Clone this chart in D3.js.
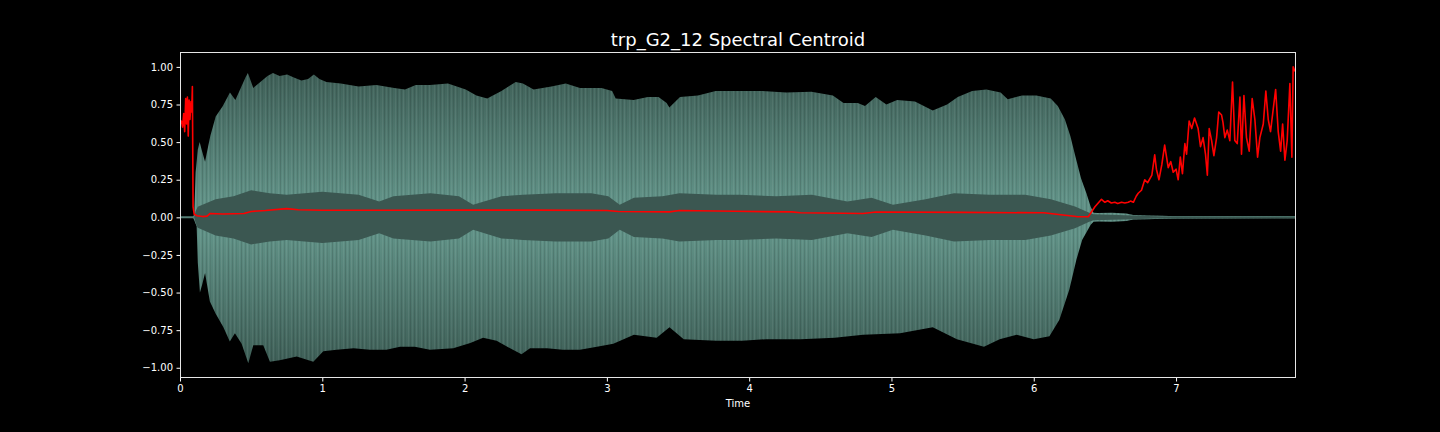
<!DOCTYPE html>
<html>
<head>
<meta charset="utf-8">
<script src="https://cdn.jsdelivr.net/npm/d3@7"></script>
<style>
  html, body { margin: 0; padding: 0; background: #000; }
  svg { display: block; }
  text { font-family: "DejaVu Sans", sans-serif; fill: #fff; }
</style>
</head>
<body>
<div id="chart"></div>
<script>
// outer waveform envelope, upper edge (time in s, amplitude)
const envUpperTime = [0, 0.09, 0.10, 0.11, 0.125, 0.138, 0.155, 0.176, 0.195, 0.213, 0.251, 0.301, 0.351, 0.389, 0.427, 0.46, 0.477, 0.50, 0.515, 0.552, 0.615, 0.653, 0.70, 0.753, 0.80, 0.853, 0.90, 0.941, 0.98, 1.029, 1.13, 1.255, 1.38, 1.506, 1.581, 1.657, 1.757, 1.883, 2.008, 2.083, 2.159, 2.259, 2.359, 2.41, 2.485, 2.61, 2.711, 2.811, 2.962, 3.037, 3.062, 3.188, 3.288, 3.363, 3.42, 3.439, 3.514, 3.64, 3.765, 3.916, 4.086, 4.261, 4.437, 4.588, 4.663, 4.763, 4.814, 4.889, 4.964, 5.04, 5.165, 5.29, 5.391, 5.466, 5.567, 5.667, 5.767, 5.817, 5.918, 6.018, 6.119, 6.169, 6.219, 6.257, 6.294, 6.332, 6.37, 6.40, 6.42, 6.45, 6.55, 6.65, 6.70, 6.80, 6.90, 7.0, 7.843];
const envUpper = [0, 0, 0.02, 0.3, 0.45, 0.50, 0.44, 0.37, 0.46, 0.54, 0.67, 0.74, 0.83, 0.78, 0.86, 0.93, 0.96, 0.90, 0.86, 0.89, 0.94, 0.96, 0.94, 0.95, 0.93, 0.91, 0.92, 0.95, 0.92, 0.90, 0.89, 0.87, 0.88, 0.86, 0.85, 0.88, 0.88, 0.89, 0.85, 0.81, 0.79, 0.84, 0.90, 0.89, 0.85, 0.87, 0.89, 0.86, 0.86, 0.84, 0.79, 0.78, 0.80, 0.80, 0.76, 0.73, 0.80, 0.81, 0.84, 0.84, 0.84, 0.83, 0.835, 0.81, 0.76, 0.76, 0.74, 0.80, 0.75, 0.78, 0.77, 0.71, 0.75, 0.80, 0.84, 0.85, 0.83, 0.785, 0.81, 0.81, 0.79, 0.74, 0.65, 0.54, 0.40, 0.26, 0.16, 0.07, 0.03, 0.028, 0.03, 0.025, 0.015, 0.012, 0.01, 0.008, 0.006];

// outer waveform envelope, lower edge
const envLowerTime = [0, 0.09, 0.10, 0.117, 0.125, 0.14, 0.155, 0.176, 0.21, 0.25, 0.305, 0.35, 0.386, 0.433, 0.48, 0.515, 0.585, 0.632, 0.70, 0.82, 0.937, 1.007, 1.10, 1.22, 1.335, 1.45, 1.546, 1.65, 1.757, 1.92, 2.04, 2.13, 2.225, 2.32, 2.40, 2.46, 2.58, 2.69, 2.81, 2.93, 3.045, 3.19, 3.35, 3.44, 3.54, 3.77, 3.95, 4.12, 4.36, 4.6, 4.8, 5.06, 5.29, 5.46, 5.65, 5.76, 5.88, 6.0, 6.11, 6.18, 6.25, 6.3, 6.34, 6.40, 6.42, 6.45, 6.55, 6.65, 6.70, 6.80, 6.90, 7.0, 7.843];
const envLower = [0, 0, -0.02, -0.06, -0.3, -0.50, -0.45, -0.37, -0.56, -0.64, -0.73, -0.825, -0.77, -0.84, -0.97, -0.85, -0.85, -0.96, -0.95, -0.925, -0.96, -0.89, -0.88, -0.87, -0.88, -0.88, -0.86, -0.86, -0.88, -0.87, -0.835, -0.80, -0.82, -0.87, -0.91, -0.87, -0.87, -0.88, -0.88, -0.86, -0.84, -0.78, -0.80, -0.73, -0.81, -0.82, -0.82, -0.81, -0.81, -0.80, -0.78, -0.77, -0.73, -0.81, -0.86, -0.81, -0.78, -0.81, -0.79, -0.68, -0.48, -0.28, -0.15, -0.05, -0.03, -0.028, -0.03, -0.025, -0.015, -0.012, -0.01, -0.008, -0.006];

// inner (dense) band around zero, symmetric
const innerTime = [0, 0.10, 0.11, 0.125, 0.25, 0.376, 0.50, 0.63, 0.75, 1.0, 1.255, 1.4, 1.5, 1.76, 1.96, 2.06, 2.26, 2.41, 2.64, 2.89, 3.01, 3.09, 3.19, 3.39, 3.51, 3.77, 3.935, 4.19, 4.44, 4.69, 4.86, 5.01, 5.24, 5.44, 5.69, 5.94, 6.12, 6.29, 6.39, 6.42, 6.70, 6.90, 7.843];
const innerEnv = [0, 0, 0.04, 0.07, 0.12, 0.14, 0.18, 0.16, 0.15, 0.17, 0.15, 0.105, 0.14, 0.16, 0.14, 0.083, 0.14, 0.15, 0.16, 0.16, 0.14, 0.083, 0.13, 0.14, 0.16, 0.15, 0.15, 0.14, 0.15, 0.105, 0.13, 0.083, 0.12, 0.16, 0.15, 0.15, 0.12, 0.072, 0.03, 0.02, 0.012, 0.006, 0.004];

// normalized spectral centroid
const centroidTime = [0, 0.010, 0.018, 0.026, 0.033, 0.040, 0.046, 0.052, 0.058, 0.064, 0.070, 0.077, 0.082, 0.087, 0.092, 0.10, 0.12, 0.16, 0.19, 0.21, 0.30, 0.45, 0.50, 0.60, 0.75, 0.83, 1.0, 1.5, 2.0, 2.5, 3.0, 3.08, 3.44, 3.51, 3.9, 4.3, 4.36, 4.8, 4.89, 5.5, 6.07, 6.19, 6.30, 6.383, 6.43, 6.476, 6.50, 6.52, 6.545, 6.57, 6.59, 6.617, 6.64, 6.664, 6.68, 6.70, 6.72, 6.734, 6.757, 6.78, 6.80, 6.83, 6.85, 6.862, 6.88, 6.90, 6.92, 6.945, 6.963, 6.98, 7.0, 7.015, 7.03, 7.045, 7.062, 7.074, 7.092, 7.11, 7.13, 7.155, 7.172, 7.19, 7.207, 7.22, 7.233, 7.25, 7.266, 7.285, 7.30, 7.32, 7.33, 7.343, 7.36, 7.378, 7.397, 7.413, 7.43, 7.449, 7.46, 7.477, 7.495, 7.514, 7.535, 7.554, 7.573, 7.589, 7.613, 7.631, 7.648, 7.664, 7.683, 7.70, 7.718, 7.735, 7.749, 7.765, 7.781, 7.80, 7.814, 7.823, 7.835];
const centroid = [0.62, 0.64, 0.60, 0.69, 0.57, 0.79, 0.62, 0.80, 0.54, 0.78, 0.65, 0.77, 0.70, 0.87, 0.07, 0.02, 0.01, 0.005, 0.008, 0.025, 0.022, 0.025, 0.039, 0.045, 0.058, 0.05, 0.047, 0.047, 0.048, 0.048, 0.045, 0.039, 0.036, 0.045, 0.04, 0.036, 0.03, 0.025, 0.035, 0.033, 0.03, 0.017, 0.005, 0.004, 0.07, 0.12, 0.10, 0.11, 0.095, 0.10, 0.092, 0.10, 0.095, 0.10, 0.108, 0.10, 0.14, 0.16, 0.18, 0.25, 0.23, 0.28, 0.415, 0.32, 0.25, 0.35, 0.48, 0.33, 0.37, 0.30, 0.32, 0.25, 0.40, 0.29, 0.49, 0.42, 0.64, 0.59, 0.66, 0.59, 0.47, 0.53, 0.42, 0.28, 0.59, 0.51, 0.41, 0.53, 0.70, 0.68, 0.63, 0.53, 0.58, 0.51, 0.90, 0.51, 0.49, 0.80, 0.42, 0.81, 0.53, 0.44, 0.79, 0.65, 0.40, 0.53, 0.62, 0.84, 0.65, 0.57, 0.72, 0.85, 0.57, 0.44, 0.62, 0.38, 0.51, 0.89, 0.40, 1.0, 0.97];

const xTicks = [0, 1, 2, 3, 4, 5, 6, 7];
const yTicks = [-1.0, -0.75, -0.5, -0.25, 0, 0.25, 0.5, 0.75, 1.0];
const title = "trp_G2_12 Spectral Centroid";
const xLabel = "Time";

const W = 1440, H = 432;
const margin = {top: 52, right: 144, bottom: 54, left: 180};
const innerW = W - margin.left - margin.right;
const innerH = H - margin.top - margin.bottom;

const svg = d3.select("#chart").append("svg")
    .attr("width", W)
    .attr("height", H);

svg.append("rect").attr("width", W).attr("height", H).attr("fill", "#000");

const x = d3.scaleLinear().domain([0, 7.843]).range([0, innerW]);
const y = d3.scaleLinear().domain([-1.068, 1.099]).range([innerH, 0]);

const defs = svg.append("defs");

// gradients: darker at the outer edge, lighter toward the centre
function addGradient(id, from, to) {
    const gr = defs.append("linearGradient").attr("id", id)
        .attr("gradientUnits", "userSpaceOnUse")
        .attr("x1", 0).attr("x2", 0).attr("y1", y(from)).attr("y2", y(to));
    gr.append("stop").attr("offset", 0).attr("stop-color", "#3f6058");
    gr.append("stop").attr("offset", 1).attr("stop-color", "#609186");
}
addGradient("gradUp", 0.95, 0.12);
addGradient("gradDown", -0.95, -0.12);

// fine vertical striation texture
const stripes = defs.append("pattern").attr("id", "stripes")
    .attr("patternUnits", "userSpaceOnUse")
    .attr("width", 13).attr("height", 10);
[[0, 1, "#000", 0.10], [2, 1, "#fff", 0.07], [4, 1, "#000", 0.07], [7, 1, "#fff", 0.06], [9, 1, "#000", 0.12], [11, 1, "#fff", 0.05]]
    .forEach(s => {
        stripes.append("rect").attr("x", s[0]).attr("y", 0)
            .attr("width", s[1]).attr("height", 10)
            .attr("fill", s[2]).attr("opacity", s[3]);
    });

defs.append("clipPath").attr("id", "plotClip")
    .append("rect").attr("width", innerW).attr("height", innerH);

const g = svg.append("g").attr("transform", `translate(${margin.left},${margin.top})`);
const plot = g.append("g").attr("clip-path", "url(#plotClip)");

const upperPts = envUpperTime.map((t, i) => [t, envUpper[i]]);
const lowerPts = envLowerTime.map((t, i) => [t, envLower[i]]);
const innerPts = innerTime.map((t, i) => [t, innerEnv[i]]);

const areaHalf = d3.area().x(d => x(d[0])).y0(y(0)).y1(d => y(d[1]));
const areaInner = d3.area().x(d => x(d[0])).y0(d => y(-d[1])).y1(d => y(d[1]));

plot.append("path").datum(upperPts).attr("d", areaHalf).attr("fill", "url(#gradUp)");
plot.append("path").datum(lowerPts).attr("d", areaHalf).attr("fill", "url(#gradDown)");
plot.append("path").datum(upperPts).attr("d", areaHalf).attr("fill", "url(#stripes)");
plot.append("path").datum(lowerPts).attr("d", areaHalf).attr("fill", "url(#stripes)");

// thin line at zero (silence before onset and the tail)
plot.append("line")
    .attr("x1", x(0)).attr("x2", x(7.843))
    .attr("y1", y(0)).attr("y2", y(0))
    .attr("stroke", "#557f76").attr("stroke-width", 2);

plot.append("path").datum(innerPts).attr("d", areaInner).attr("fill", "#3b5751");

// spectral centroid
const line = d3.line().x(d => x(d[0])).y(d => y(d[1]));
plot.append("path")
    .datum(centroidTime.map((t, i) => [t, centroid[i]]))
    .attr("d", line)
    .attr("fill", "none")
    .attr("stroke", "#ff0000")
    .attr("stroke-width", 1.6)
    .attr("stroke-linejoin", "round");

// axes
const fmtY = d => d3.format(".2f")(d).replace("-", "\u2212");
const xAxis = g.append("g").attr("transform", `translate(0,${innerH})`)
    .call(d3.axisBottom(x).tickValues(xTicks).tickFormat(d3.format("d")).tickSize(3.5).tickPadding(3.5));
const yAxis = g.append("g")
    .call(d3.axisLeft(y).tickValues(yTicks).tickFormat(fmtY).tickSize(3.5).tickPadding(3.5));

[xAxis, yAxis].forEach(ax => {
    ax.select(".domain").remove();
    ax.selectAll(".tick line").attr("stroke", "#fff").attr("stroke-width", 1);
    ax.selectAll(".tick text").attr("fill", "#fff")
        .style("font-family", "'DejaVu Sans', sans-serif").style("font-size", "10px");
});

g.append("rect")
    .attr("x", 0.5).attr("y", 0.5).attr("width", innerW - 1).attr("height", innerH - 1)
    .attr("fill", "none").attr("stroke", "#e6e6e6").attr("stroke-width", 1)
    .attr("shape-rendering", "crispEdges");

g.append("text")
    .attr("x", innerW / 2).attr("y", innerH + 29)
    .attr("text-anchor", "middle")
    .style("font-size", "10px")
    .text(xLabel);

svg.append("text")
    .attr("x", margin.left + innerW / 2).attr("y", 46)
    .attr("text-anchor", "middle")
    .style("font-size", "18px")
    .text(title);
</script>
</body>
</html>
